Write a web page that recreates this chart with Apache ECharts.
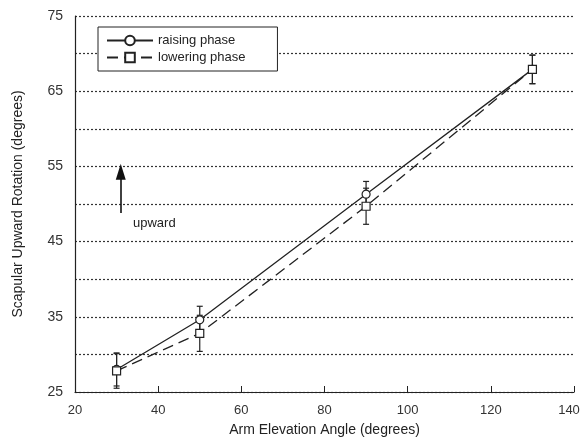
<!DOCTYPE html>
<html>
<head>
<meta charset="utf-8">
<script src="https://cdn.jsdelivr.net/npm/echarts@6/dist/echarts.min.js"></script>
<style>
  html, body { margin: 0; padding: 0; background: #fff; }
  #chart { width: 582px; height: 445px; }
</style>
</head>
<body>
<div id="chart"></div>
<script>
// arm elevation angles (deg)
var angles = [30, 50, 90, 130];
// scapular upward rotation, mean and SD
var raising = [28.0, 34.6, 51.3, 67.9];
var raisingSD = [2.2, 1.8, 1.7, 1.9];
var lowering = [27.8, 32.8, 49.7, 67.9];
var loweringSD = [2.3, 2.4, 2.4, 1.9];

var myChart = echarts.init(document.getElementById('chart'));
var font = 'Liberation Sans, Arial, sans-serif';

function pairs(ys) {
    return angles.map(function (x, i) { return [x, ys[i]]; });
}
function errData(ys, sd) {
    return angles.map(function (x, i) { return [x, ys[i] - sd[i], ys[i] + sd[i]]; });
}
// vertical error bar with small caps
function renderErr(params, api) {
    var x = api.value(0);
    var lo = api.coord([x, api.value(1)]);
    var hi = api.coord([x, api.value(2)]);
    var w = 3;
    var st = { stroke: '#222', lineWidth: 1.2 };
    return {
        type: 'group',
        children: [
            { type: 'line', shape: { x1: lo[0], y1: lo[1], x2: hi[0], y2: hi[1] }, style: st },
            { type: 'line', shape: { x1: lo[0] - w, y1: lo[1], x2: lo[0] + w, y2: lo[1] }, style: st },
            { type: 'line', shape: { x1: hi[0] - w, y1: hi[1], x2: hi[0] + w, y2: hi[1] }, style: st }
        ]
    };
}

var option = {
    animation: false,
    backgroundColor: '#fff',
    grid: { left: 75, right: 8, top: 16, bottom: 53, outerBoundsMode: 'none', containLabel: false },
    legend: {
        left: 98, top: 27,
        orient: 'vertical',
        padding: [7, 32, 7, 8],
        itemGap: 4,
        itemWidth: 46,
        itemHeight: 12,
        backgroundColor: '#fff',
        borderColor: '#222',
        borderWidth: 1,
        textStyle: { fontFamily: font, fontSize: 13, color: '#222' },
        data: ['raising phase', 'lowering phase']
    },
    xAxis: {
        type: 'value',
        min: 20, max: 140, interval: 20,
        name: 'Arm Elevation Angle (degrees)',
        nameLocation: 'middle',
        nameGap: 31,
        nameTextStyle: { fontFamily: font, fontSize: 14, color: '#222' },
        axisLine: { lineStyle: { color: '#222', width: 1.2 } },
        axisTick: { inside: true, length: 6, lineStyle: { color: '#222' } },
        axisLabel: {
            fontFamily: font, fontSize: 13, color: '#333', margin: 12,
            formatter: function (v) { return v === 140 ? '{m|140}' : v; },
            rich: { m: { fontFamily: font, fontSize: 13, color: '#333', padding: [0, 10, 0, 0] } }
        },
        splitLine: { show: false }
    },
    yAxis: {
        type: 'value',
        min: 25, max: 75, interval: 5,
        name: 'Scapular Upward Rotation (degrees)',
        nameLocation: 'middle',
        nameGap: 50,
        nameTextStyle: { fontFamily: font, fontSize: 14, color: '#222' },
        axisLine: { show: true, lineStyle: { color: '#222', width: 1.2 } },
        axisTick: { show: false },
        axisLabel: {
            fontFamily: font, fontSize: 14, color: '#333', margin: 12,
            formatter: function (v) { return (v - 25) % 10 === 0 ? v : ''; }
        },
        splitLine: { lineStyle: { color: '#333', type: [2, 2], width: 1.2 } }
    },
    series: [
        {
            name: 'raising phase',
            type: 'line',
            data: pairs(raising),
            symbol: 'circle',
            symbolSize: 8,
            lineStyle: { color: '#222', width: 1.3 },
            itemStyle: { color: '#fff', borderColor: '#222', borderWidth: 1.2 },
            z: 3,
            markLine: {
                silent: true,
                symbol: ['none', 'triangle'],
                symbolSize: [10, 16],
                lineStyle: { color: '#111', width: 1.6, type: 'solid' },
                label: { show: false },
                data: [[{ coord: [31, 48.8] }, { coord: [31, 54.3] }]]
            }
        },
        {
            name: 'lowering phase',
            type: 'line',
            data: pairs(lowering),
            symbol: 'rect',
            symbolSize: 8,
            lineStyle: { color: '#222', width: 1.3, type: [11, 6] },
            itemStyle: { color: '#fff', borderColor: '#222', borderWidth: 1.2 },
            z: 3
        },
        {
            type: 'custom',
            renderItem: renderErr,
            data: errData(raising, raisingSD),
            z: 2
        },
        {
            type: 'custom',
            renderItem: renderErr,
            data: errData(lowering, loweringSD),
            z: 2
        }
    ],
    graphic: [
        {
            type: 'text', left: 133, top: 217,
            style: { text: 'upward', fontFamily: font, fontSize: 13, fill: '#222' }
        }
    ]
};
myChart.setOption(option);
</script>
</body>
</html>
